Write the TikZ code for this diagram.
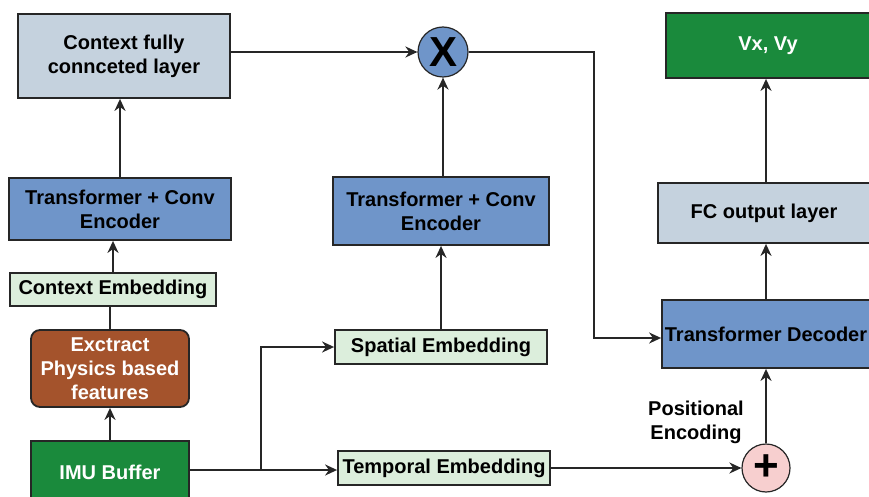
\documentclass[tikz,border=0pt]{standalone}
\usepackage{fontspec}
\setmainfont{Liberation Sans}
\usetikzlibrary{arrows.meta,calc}
\definecolor{fcgrey}{HTML}{C5D2DE}
\definecolor{encblue}{HTML}{6F95C9}
\definecolor{embgreen}{HTML}{DCEEDC}
\definecolor{physbrown}{HTML}{A4532C}
\definecolor{outgreen}{HTML}{1A8A3C}
\definecolor{pluspink}{HTML}{F7CFCF}
\definecolor{edge}{HTML}{262626}
\tikzset{
  blk/.style={draw=edge, line width=1.8pt, align=center, inner sep=0pt,
    font=\fontsize{20}{24}\selectfont\bfseries},
  fcbox/.style={blk, fill=fcgrey},
  encbox/.style={blk, fill=encblue},
  embbox/.style={blk, fill=embgreen},
  physbox/.style={blk, fill=physbrown, rounded corners=9pt, text=white},
  outbox/.style={blk, fill=outgreen, text=white},
  opcirc/.style={circle, draw=edge, line width=1.2pt, inner sep=0pt, minimum size=50pt},
  conn/.style={draw=edge, line width=2pt, -{Stealth[length=12pt,width=11pt]}},
  plain/.style={draw=edge, line width=2pt}
}
\begin{document}
\begin{tikzpicture}[x=1pt,y=-1pt]
\useasboundingbox (0,0) rectangle (869,497);

% left column: context branch
\node[fcbox, minimum width=212pt, minimum height=84pt] (ctxfc) at (124,56) {Context fully\\connceted layer};
\node[encbox, minimum width=222pt, minimum height=62pt] (encL) at (120,209) {Transformer + Conv\\Encoder};
\node[embbox, minimum width=206pt, minimum height=33pt] (ctxemb) at (113,289.5) {Context Embedding};
\node[physbox, minimum width=158pt, minimum height=77pt] (phys) at (110,368.5) {Exctract\\Physics based\\features};
\node[outbox, minimum width=158pt, minimum height=62pt] (imu) at (110,472) {IMU Buffer};

% middle column: spatial and temporal branches
\node[embbox, minimum width=212pt, minimum height=34pt] (spat) at (441,347) {Spatial Embedding};
\node[embbox, minimum width=212pt, minimum height=34pt] (temp) at (444,468) {Temporal Embedding};
\node[encbox, minimum width=216pt, minimum height=68pt] (encM) at (441,211) {Transformer + Conv\\Encoder};
\node[opcirc, fill=encblue, font=\fontsize{42}{42}\selectfont\bfseries] (mul) at (443,52) {X};

% right column: decoder and output
\node[opcirc, fill=pluspink, minimum size=48pt, font=\fontsize{44}{44}\selectfont\bfseries] (add) at (766,468) {+};
\node[font=\fontsize{20}{24}\selectfont\bfseries, align=center] (posenc) at (696,422) {Positional\\Encoding};
\node[encbox, minimum width=208pt, minimum height=68pt] (dec) at (766,334) {Transformer Decoder};
\node[fcbox, minimum width=212pt, minimum height=60pt] (fcout) at (764,213) {FC output layer};
\node[outbox, minimum width=204pt, minimum height=65pt] (vxy) at (768,45.5) {Vx, Vy};

\coordinate (split) at (261,470);
\coordinate (bend) at (594,52);

% connectors
\draw[conn] (imu.north) -- (phys.south);
\draw[plain] (phys.north) -- (phys.north |- ctxemb.south);
\draw[conn] (ctxemb.north) -- (ctxemb.north |- encL.south);
\draw[conn] (encL.north) -- (encL.north |- ctxfc.south);
\draw[conn] (ctxfc.east |- mul.west) -- (mul.west);
\draw[plain] (imu.east |- split) -- (split);
\draw[conn] (split) |- (spat.west);
\draw[conn] (split) -- (temp.west |- split);
\draw[conn] (spat.north) -- (spat.north |- encM.south);
\draw[conn] (encM.north -| mul.south) -- (mul.south);
\draw[conn] (mul.east) -- (bend) |- ($(dec.west)+(0,4)$);
\draw[conn] (temp.east |- add.west) -- (add.west);
\draw[conn] (add.north) -- (add.north |- dec.south);
\draw[conn] (dec.north -| add.north) -- (add.north |- fcout.south);
\draw[conn] (fcout.north -| add.north) -- (add.north |- vxy.south);
\end{tikzpicture}
\end{document}
